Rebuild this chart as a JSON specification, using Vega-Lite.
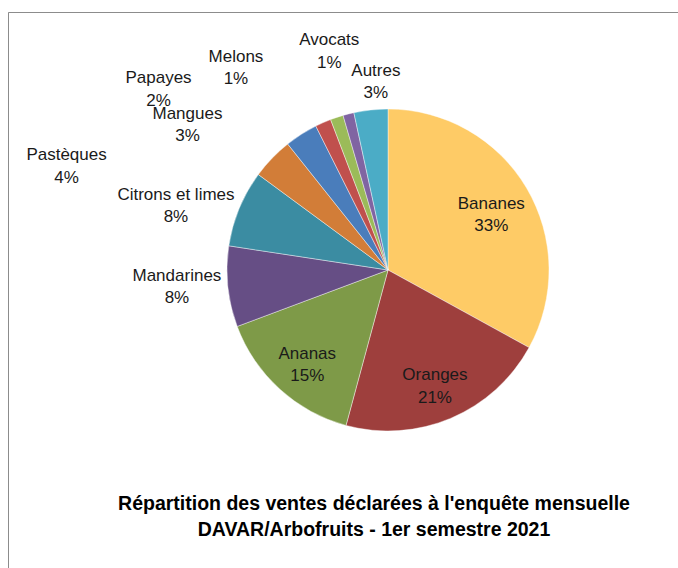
{
  "$schema": "https://vega.github.io/schema/vega-lite/v6.json",
  "width": 670,
  "height": 556,
  "autosize": {"type": "none"},
  "padding": {"left": 8, "top": 12, "right": 0, "bottom": 0},
  "background": "white",
  "view": {"stroke": "#8c8c8c", "strokeWidth": 1, "strokeDash": [670, 1226, 600]},
  "config": {
    "view": {"stroke": "#8c8c8c", "strokeWidth": 1, "strokeDash": [670, 1226, 600]},
    "font": "Liberation Sans"
  },
  "title": {
    "text": ["Répartition des ventes déclarées à l'enquête mensuelle", "DAVAR/Arbofruits - 1er semestre 2021"],
    "orient": "bottom",
    "anchor": "middle",
    "offset": -73,
    "dx": 31,
    "fontSize": 19.5,
    "fontWeight": "bold",
    "font": "Liberation Sans",
    "lineHeight": 26,
    "color": "#000000"
  },
  "data": {
    "values": [
      {"name": "Bananes", "share": 33.0, "label": "Bananes\n33%", "rank": 1},
      {"name": "Oranges", "share": 21.2, "label": "Oranges\n21%", "rank": 2},
      {"name": "Ananas", "share": 15.1, "label": "Ananas\n15%", "rank": 3},
      {"name": "Mandarines", "share": 8.1, "label": "Mandarines\n8%", "rank": 4},
      {"name": "Citrons et limes", "share": 7.7, "label": "Citrons et limes\n8%", "rank": 5},
      {"name": "Pastèques", "share": 4.2, "label": "Pastèques\n4%", "rank": 6},
      {"name": "Mangues", "share": 3.3, "label": "Mangues\n3%", "rank": 7},
      {"name": "Papayes", "share": 1.6, "label": "Papayes\n2%", "rank": 8},
      {"name": "Melons", "share": 1.3, "label": "Melons\n1%", "rank": 9},
      {"name": "Avocats", "share": 1.1, "label": "Avocats\n1%", "rank": 10},
      {"name": "Autres", "share": 3.4, "label": "Autres\n3%", "rank": 11}
    ]
  },
  "encoding": {
    "theta": {"field": "share", "type": "quantitative", "stack": true},
    "order": {"field": "rank", "type": "quantitative"}
  },
  "layer": [
    {
      "mark": {"type": "arc", "radius": 161, "xOffset": 45, "yOffset": -20, "stroke": "#ffffff", "strokeWidth": 0.6, "strokeOpacity": 0.7},
      "encoding": {
        "color": {
          "field": "name",
          "type": "nominal",
          "legend": null,
          "scale": {
            "domain": ["Bananes", "Oranges", "Ananas", "Mandarines", "Citrons et limes", "Pastèques", "Mangues", "Papayes", "Melons", "Avocats", "Autres"],
            "range": ["#FECB66", "#9E3F3D", "#7E9A48", "#664E85", "#3B8CA2", "#D27D38", "#4A7DBB", "#C0504D", "#9BBB59", "#8064A2", "#4BACC6"]
          }
        }
      }
    },
    {
      "mark": {"type": "text", "radius": 120, "xOffset": 45, "yOffset": -20, "dy": -5, "fontSize": 17, "lineBreak": "\n", "lineHeight": 22.5, "align": "center", "baseline": "middle", "color": "#1a1a1a"},
      "encoding": {"text": {"condition": {"test": "datum.rank <= 3", "field": "label"}, "value": ""}}
    },
    {
      "mark": {"type": "text", "radius": 170, "xOffset": 45, "yOffset": -20, "dx": -42, "dy": -12, "fontSize": 17, "lineBreak": "\n", "lineHeight": 22.5, "align": "center", "baseline": "middle", "color": "#1a1a1a"},
      "encoding": {"text": {"condition": {"test": "datum.name === 'Mandarines'", "field": "label"}, "value": ""}}
    },
    {
      "mark": {"type": "text", "radius": 170, "xOffset": 45, "yOffset": -20, "dx": -55, "dy": -10, "fontSize": 17, "lineBreak": "\n", "lineHeight": 22.5, "align": "center", "baseline": "middle", "color": "#1a1a1a"},
      "encoding": {"text": {"condition": {"test": "datum.name === 'Citrons et limes'", "field": "label"}, "value": ""}}
    },
    {
      "mark": {"type": "text", "radius": 170, "xOffset": 45, "yOffset": -20, "dx": -199, "dy": 3, "fontSize": 17, "lineBreak": "\n", "lineHeight": 22.5, "align": "center", "baseline": "middle", "color": "#1a1a1a"},
      "encoding": {"text": {"condition": {"test": "datum.name === 'Pastèques'", "field": "label"}, "value": ""}}
    },
    {
      "mark": {"type": "text", "radius": 170, "xOffset": 45, "yOffset": -20, "dx": -109, "dy": -13, "fontSize": 17, "lineBreak": "\n", "lineHeight": 22.5, "align": "center", "baseline": "middle", "color": "#1a1a1a"},
      "encoding": {"text": {"condition": {"test": "datum.name === 'Mangues'", "field": "label"}, "value": ""}}
    },
    {
      "mark": {"type": "text", "radius": 170, "xOffset": 45, "yOffset": -20, "dx": -161, "dy": -36, "fontSize": 17, "lineBreak": "\n", "lineHeight": 22.5, "align": "center", "baseline": "middle", "color": "#1a1a1a"},
      "encoding": {"text": {"condition": {"test": "datum.name === 'Papayes'", "field": "label"}, "value": ""}}
    },
    {
      "mark": {"type": "text", "radius": 170, "xOffset": 45, "yOffset": -20, "dx": -98, "dy": -52, "fontSize": 17, "lineBreak": "\n", "lineHeight": 22.5, "align": "center", "baseline": "middle", "color": "#1a1a1a"},
      "encoding": {"text": {"condition": {"test": "datum.name === 'Melons'", "field": "label"}, "value": ""}}
    },
    {
      "mark": {"type": "text", "radius": 170, "xOffset": 45, "yOffset": -20, "dx": -17, "dy": -65, "fontSize": 17, "lineBreak": "\n", "lineHeight": 22.5, "align": "center", "baseline": "middle", "color": "#1a1a1a"},
      "encoding": {"text": {"condition": {"test": "datum.name === 'Avocats'", "field": "label"}, "value": ""}}
    },
    {
      "mark": {"type": "text", "radius": 170, "xOffset": 45, "yOffset": -20, "dx": 6, "dy": -30, "fontSize": 17, "lineBreak": "\n", "lineHeight": 22.5, "align": "center", "baseline": "middle", "color": "#1a1a1a"},
      "encoding": {"text": {"condition": {"test": "datum.name === 'Autres'", "field": "label"}, "value": ""}}
    }
  ]
}
